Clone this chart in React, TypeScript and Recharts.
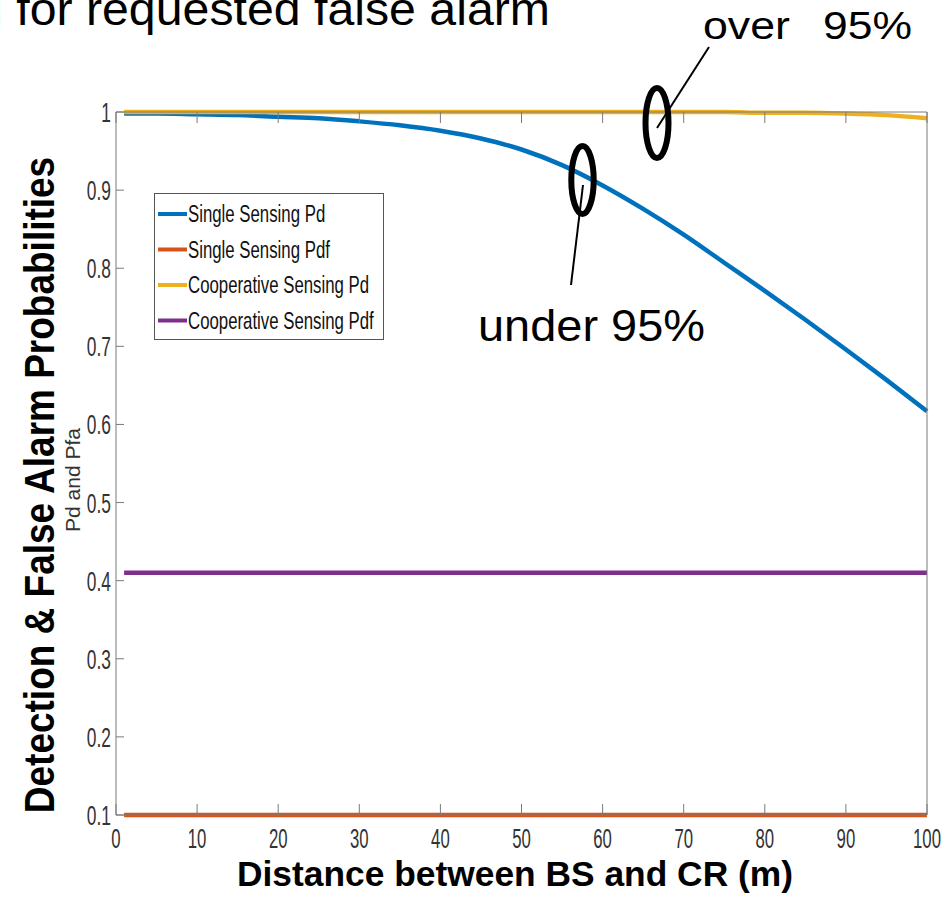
import React from "react";
import { LineChart, Line, XAxis, YAxis, Legend } from "recharts";

// distance between BS and CR (m)
const distances = [1, 5, 10, 15, 20, 25, 30, 35, 40, 45, 50, 55, 60, 65, 70, 75, 80, 85, 90, 95, 100];

// detection / false alarm probabilities
const singlePd = [0.998, 0.998, 0.997, 0.996, 0.994, 0.992, 0.988, 0.983, 0.976, 0.966, 0.952, 0.932, 0.906, 0.876, 0.843, 0.807, 0.771, 0.734, 0.696, 0.657, 0.617];
const singlePfa = [0.1, 0.1, 0.1, 0.1, 0.1, 0.1, 0.1, 0.1, 0.1, 0.1, 0.1, 0.1, 0.1, 0.1, 0.1, 0.1, 0.1, 0.1, 0.1, 0.1, 0.1];
const coopPd = [1, 1, 1, 1, 1, 1, 1, 1, 1, 1, 1, 1, 1, 1, 1, 1, 0.999, 0.999, 0.998, 0.996, 0.992];
const coopPfa = [0.41, 0.41, 0.41, 0.41, 0.41, 0.41, 0.41, 0.41, 0.41, 0.41, 0.41, 0.41, 0.41, 0.41, 0.41, 0.41, 0.41, 0.41, 0.41, 0.41, 0.41];

const seriesNames = ["Single Sensing Pd", "Single Sensing Pdf", "Cooperative Sensing Pd", "Cooperative Sensing Pdf"];

const xTicks = [0, 10, 20, 30, 40, 50, 60, 70, 80, 90, 100];
const yTicks = [0.1, 0.2, 0.3, 0.4, 0.5, 0.6, 0.7, 0.8, 0.9, 1];

const data = distances.map((d, i) => ({
  d,
  singlePd: singlePd[i],
  singlePfa: singlePfa[i],
  coopPd: coopPd[i],
  coopPfa: coopPfa[i],
}));

const AXIS = "#7a7a7a";
const TICK_TEXT = "#333";
const FONT = "'Liberation Sans', Arial, sans-serif";

const BottomTick = ({ x, y, payload }: any) => (
  <g>
    <line x1={x} y1={y} x2={x} y2={y - 11} stroke={AXIS} strokeWidth={1} />
    <text
      transform={`translate(${x},${y + 33}) scale(0.62,1)`}
      textAnchor="middle"
      fontSize={27}
      fontFamily={FONT}
      fill={TICK_TEXT}
    >
      {payload.value}
    </text>
  </g>
);

const TopTick = ({ x, y }: any) => (
  <line x1={x} y1={y} x2={x} y2={y + 11} stroke={AXIS} strokeWidth={1} />
);

const LeftTick = ({ x, y, payload }: any) => (
  <g>
    <line x1={x} y1={y} x2={x + 8} y2={y} stroke={AXIS} strokeWidth={1} />
    <text
      transform={`translate(${x - 5},${y + 10}) scale(0.62,1)`}
      textAnchor="end"
      fontSize={28}
      fontFamily={FONT}
      fill={TICK_TEXT}
    >
      {payload.value}
    </text>
  </g>
);

const RightTick = ({ x, y }: any) => (
  <line x1={x} y1={y} x2={x - 8} y2={y} stroke={AXIS} strokeWidth={1} />
);

const LegendBox = ({ payload }: any) => {
  // keep the plotting order, not the alphabetical one
  const items = [...(payload || [])].sort(
    (a: any, b: any) => seriesNames.indexOf(a.value) - seriesNames.indexOf(b.value)
  );
  return (
    <svg width={231} height={148}>
      <rect x={0.5} y={0.5} width={229} height={146} fill="#fff" stroke="#555" strokeWidth={1} />
      {items.map((p: any, i: number) => {
        const cy = 21 + i * 35.5;
        return (
          <g key={p.value}>
            <line x1={4} y1={cy} x2={33} y2={cy} stroke={p.color} strokeWidth={4} />
            <text
              transform={`translate(34,${cy + 8}) scale(0.7,1)`}
              fontSize={24}
              fontFamily={FONT}
              fill="#111"
            >
              {p.value}
            </text>
          </g>
        );
      })}
    </svg>
  );
};

export default function App() {
  return (
    <div style={{ position: "absolute", left: 0, top: 0, width: 951, height: 906, background: "#fff" }}>
      <LineChart
        width={951}
        height={906}
        data={data}
        margin={{ top: 111, right: 23, bottom: 51, left: 56 }}
      >
        <XAxis
          dataKey="d"
          type="number"
          domain={[0, 100]}
          ticks={xTicks}
          height={40}
          tickSize={0}
          tickMargin={0}
          tickLine={false}
          axisLine={{ stroke: AXIS }}
          tick={<BottomTick />}
          interval={0}
        />
        <XAxis
          xAxisId="top"
          orientation="top"
          type="number"
          dataKey="d"
          domain={[0, 100]}
          ticks={xTicks}
          height={1}
          tickSize={0}
          tickMargin={0}
          tickLine={false}
          axisLine={{ stroke: AXIS }}
          tick={<TopTick />}
          interval={0}
        />
        <YAxis
          type="number"
          domain={[0.1, 1]}
          ticks={yTicks}
          width={60}
          tickSize={0}
          tickMargin={0}
          tickLine={false}
          axisLine={{ stroke: AXIS }}
          tick={<LeftTick />}
          interval={0}
        />
        <YAxis
          yAxisId="right"
          orientation="right"
          type="number"
          domain={[0.1, 1]}
          ticks={yTicks}
          width={1}
          tickSize={0}
          tickMargin={0}
          tickLine={false}
          axisLine={{ stroke: AXIS }}
          tick={<RightTick />}
          interval={0}
        />
        <Line type="monotone" dataKey="singlePd" name={seriesNames[0]} stroke="#0072BD" strokeWidth={4.5} dot={false} isAnimationActive={false} />
        <Line type="monotone" dataKey="singlePfa" name={seriesNames[1]} stroke="#D95319" strokeWidth={4.5} dot={false} isAnimationActive={false} />
        <Line type="monotone" dataKey="coopPd" name={seriesNames[2]} stroke="#EDB120" strokeWidth={4.5} dot={false} isAnimationActive={false} />
        <Line type="monotone" dataKey="coopPfa" name={seriesNames[3]} stroke="#7E2F8E" strokeWidth={4.5} dot={false} isAnimationActive={false} />
        <Legend
          layout="vertical"
          align="center"
          verticalAlign="middle"
          content={<LegendBox />}
          wrapperStyle={{ left: 154, top: 193, width: 231, height: 148 }}
        />
      </LineChart>

      <svg
        width={951}
        height={906}
        style={{ position: "absolute", left: 0, top: 0, pointerEvents: "none" }}
        fontFamily={FONT}
      >
        {/* slide title, clipped by the page edge as in the source */}
        <text x={-24} y={25} fontSize={47} textLength={574} lengthAdjust="spacingAndGlyphs" fill="#000">
          d for requested false alarm
        </text>

        {/* over 95% callout */}
        <text x={703} y={39} fontSize={38} textLength={87} lengthAdjust="spacingAndGlyphs" fill="#000">over</text>
        <text x={823} y={39} fontSize={38} textLength={89} lengthAdjust="spacingAndGlyphs" fill="#000">95%</text>
        <line x1={657} y1={128} x2={709} y2={47} stroke="#000" strokeWidth={2} />
        <ellipse cx={657} cy={123} rx={11.5} ry={35} fill="none" stroke="#000" strokeWidth={6} />

        {/* under 95% callout */}
        <text x={478} y={341} fontSize={44} textLength={227} lengthAdjust="spacingAndGlyphs" fill="#000">under 95%</text>
        <line x1={583} y1={185} x2={571} y2={285} stroke="#000" strokeWidth={2} />
        <ellipse cx={582.5} cy={180} rx={11.2} ry={34} fill="none" stroke="#000" strokeWidth={6} />

        {/* axis titles */}
        <text
          transform="translate(54,485) scale(1.15,1) rotate(-90)"
          textAnchor="middle"
          fontSize={37}
          fontWeight="bold"
          fill="#000"
        >
          Detection &amp; False Alarm Probabilities
        </text>
        <text transform="translate(80,480) rotate(-90)" textAnchor="middle" fontSize={21} fill="#333">
          Pd and Pfa
        </text>
        <text x={237} y={886} fontSize={35} fontWeight="bold" textLength={556} lengthAdjust="spacingAndGlyphs" fill="#000">
          Distance between BS and CR (m)
        </text>
      </svg>
    </div>
  );
}
